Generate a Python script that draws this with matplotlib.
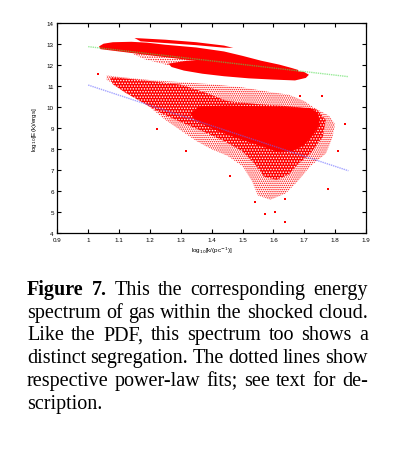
import numpy as np
import matplotlib.pyplot as plt

# outlines of the point clouds (log10 k, log10 E)
wedge_x = [1.15, 1.25, 1.35, 1.44, 1.47, 1.44, 1.35, 1.25, 1.17]
wedge_y = [13.30, 13.22, 13.10, 12.94, 12.83, 12.84, 12.96, 13.06, 13.14]

band_x = [1.035, 1.05, 1.08, 1.14, 1.19, 1.25, 1.35, 1.44, 1.50, 1.56, 1.62, 1.66, 1.68,
          1.68, 1.60, 1.50, 1.40, 1.30, 1.20, 1.10, 1.04]
band_y = [12.90, 13.03, 13.10, 13.12, 13.08, 12.98, 12.85, 12.66, 12.45, 12.22, 12.03, 11.87, 11.78,
          11.64, 11.77, 11.94, 12.11, 12.30, 12.48, 12.66, 12.77]

sub_x = [1.26, 1.32, 1.38, 1.45, 1.55, 1.65, 1.70, 1.715, 1.705, 1.67, 1.60, 1.52, 1.44, 1.37, 1.31, 1.27]
sub_y = [12.08, 12.22, 12.22, 12.12, 11.95, 11.78, 11.68, 11.55, 11.40, 11.28, 11.32, 11.38, 11.48, 11.60, 11.75, 11.92]

gap_x = [1.12, 1.22, 1.33, 1.42, 1.36, 1.26, 1.18]
gap_y = [12.72, 12.52, 12.35, 12.20, 12.05, 12.00, 12.30]

halo_x = [1.06, 1.10, 1.20, 1.30, 1.40, 1.50, 1.58, 1.65, 1.70, 1.73, 1.78, 1.80, 1.79, 1.77,
          1.72, 1.68, 1.64, 1.59, 1.55, 1.53, 1.50, 1.45, 1.40, 1.35, 1.30, 1.25, 1.20, 1.15, 1.10, 1.06]
halo_y = [11.52, 11.45, 11.30, 11.20, 11.10, 10.95, 10.75, 10.60, 10.30, 10.00, 9.60, 9.20, 8.50, 7.80,
          7.20, 6.50, 5.90, 5.60, 5.80, 6.50, 7.20, 7.70, 8.00, 8.40, 8.90, 9.40, 10.00, 10.50, 11.00, 11.30]

mid_x = [1.07, 1.20, 1.30, 1.38, 1.45, 1.55, 1.65, 1.74, 1.77, 1.76, 1.72, 1.68, 1.65, 1.61,
         1.57, 1.54, 1.50, 1.44, 1.38, 1.30, 1.24, 1.18, 1.12, 1.08]
mid_y = [11.45, 11.25, 11.08, 10.70, 10.30, 10.15, 10.05, 9.90, 9.40, 8.60, 7.80, 7.30, 6.80, 6.55,
         6.70, 7.30, 7.90, 8.40, 8.80, 9.30, 9.70, 10.20, 10.70, 11.10]

core_x = [1.36, 1.45, 1.55, 1.65, 1.72, 1.745, 1.75, 1.73, 1.70, 1.66, 1.62, 1.58, 1.52, 1.45, 1.40, 1.35, 1.33]
core_y = [10.05, 10.08, 10.05, 10.00, 9.97, 9.70, 9.20, 8.70, 8.20, 7.90, 7.85, 8.05, 8.35, 8.70, 9.00, 9.35, 9.70]

# stray points
stray_x = [1.033, 1.316, 1.459, 1.573, 1.605, 1.638, 1.540, 1.832, 1.686, 1.756, 1.740, 1.810, 1.778, 1.222, 1.638]
stray_y = [11.59, 7.94, 6.75, 4.92, 5.00, 4.56, 5.48, 9.21, 10.56, 10.52, 9.68, 7.94, 6.11, 8.97, 5.63]

# power-law fits
fit_k = [1.0, 1.843]
fit_upper = [12.89, 11.46]
fit_lower = [11.06, 6.98]

xticks = [0.9, 1, 1.1, 1.2, 1.3, 1.4, 1.5, 1.6, 1.7, 1.8, 1.9]
xticklabels = ['0.9', '1', '1.1', '1.2', '1.3', '1.4', '1.5', '1.6', '1.7', '1.8', '1.9']
yticks = list(range(4, 15))

caption = ["Figure 7. This the corresponding energy",
           "spectrum of gas within the shocked cloud.",
           "Like the PDF, this spectrum too shows a",
           "distinct segregation. The dotted lines show",
           "respective power-law fits; see text for de-",
           "scription."]
bold_words = ["Figure", "7."]

plt.rcParams['font.family'] = 'Liberation Sans'
plt.rcParams['hatch.linewidth'] = 0.7
fig = plt.figure(figsize=(4.05, 4.52), dpi=100)
ax = fig.add_axes([0.1415, 0.4816, 0.7622, 0.4646])

# sparse fringes: red specks on white, dense parts: red with white specks
ax.fill(halo_x, halo_y, facecolor='none', edgecolor='red', hatch='........', linewidth=0)
ax.fill(gap_x, gap_y, facecolor='none', edgecolor='red', hatch='.......', linewidth=0)
ax.fill(mid_x, mid_y, facecolor='red', edgecolor='white', hatch='......', linewidth=0)
ax.fill(core_x, core_y, color='red', linewidth=0)
ax.fill(sub_x, sub_y, color='red', linewidth=0)
ax.fill(band_x, band_y, color='red', linewidth=0)
ax.fill(wedge_x, wedge_y, color='red', linewidth=0)
ax.scatter(stray_x, stray_y, s=1.2, color='red', marker='s', linewidths=0)

ax.plot(fit_k, fit_upper, color='#55dd55', alpha=0.6, lw=1.0, ls=(0, (1, 0.6)))
ax.plot(fit_k, fit_lower, color='#6666ff', alpha=0.6, lw=1.0, ls=(0, (1, 0.6)))

ax.set_xlim(0.9, 1.9)
ax.set_ylim(4, 14)
ax.set_xticks(xticks)
ax.set_xticklabels(xticklabels)
ax.set_yticks(yticks)
ax.tick_params(direction='in', top=True, right=True, length=3, width=0.8, labelsize=4.5, pad=2.5)
for s in ax.spines.values():
    s.set_linewidth(0.9)
ax.set_xlabel(r'log$_{10}$[k/(pc$^{-1}$)]', fontsize=4.5, labelpad=2)
ax.set_ylabel(r'log$_{10}$[E(k)/ergs]', fontsize=4.5, labelpad=6)

# justified caption
renderer = fig.canvas.get_renderer()
left, right = 27 / 405, 368 / 405
baselines = [295, 317.7, 340.5, 363.3, 386, 409]
for i, line in enumerate(caption):
    y = 1 - baselines[i] / 452
    words = line.split()
    texts = []
    for w in words:
        t = fig.text(0, y, w, fontsize=14.5, family='Liberation Serif', va='baseline',
                     weight='bold' if (i == 0 and w in bold_words) else 'normal')
        texts.append(t)
    widths = [t.get_window_extent(renderer).width / fig.bbox.width for t in texts]
    if i < len(caption) - 1 and len(words) > 1:
        gap = (right - left - sum(widths)) / (len(words) - 1)
    else:
        gap = 4 / 405
    x = left
    for t, w in zip(texts, widths):
        t.set_x(x)
        x += w + gap

fig.savefig('out.png', dpi=100)
